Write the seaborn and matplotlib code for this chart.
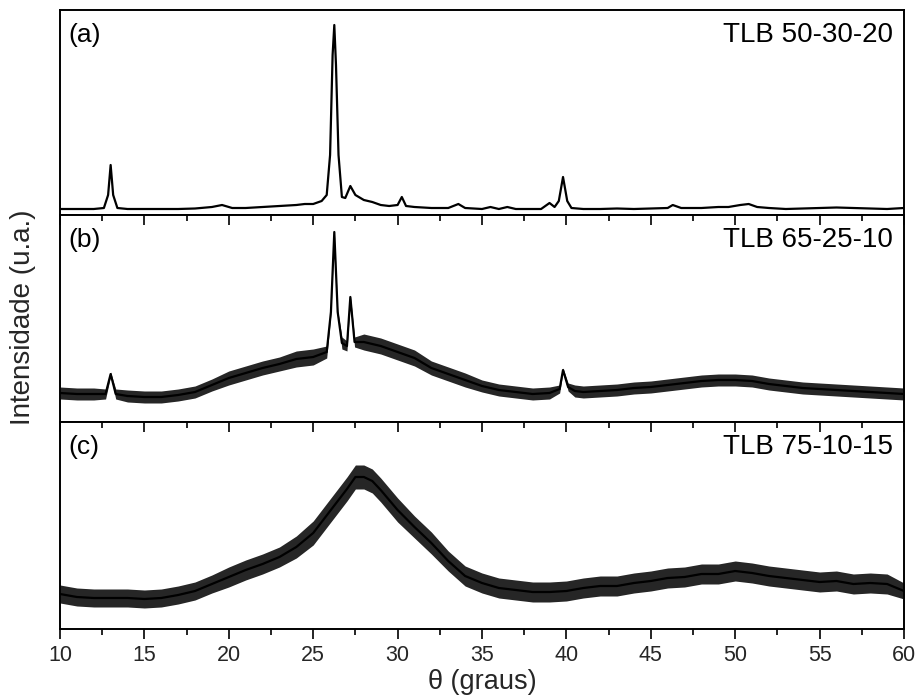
import numpy as np
import pandas as pd
import matplotlib
matplotlib.use("Agg")
import matplotlib.pyplot as plt
from matplotlib.ticker import MultipleLocator
import seaborn as sns

# ---------------- data ----------------
# (a) TLB 50-30-20
a_theta = [10, 11, 12, 12.6, 12.85, 13.0, 13.15, 13.4, 14, 15, 16, 17, 18, 19, 19.6, 20.2,
           21, 22, 23, 24, 24.5, 25.0, 25.5, 25.8, 26.0, 26.15, 26.25, 26.35, 26.5, 26.7,
           26.9, 27.2, 27.5, 28.0, 28.5, 29.0, 29.5, 30.0, 30.25, 30.5, 31, 32, 33, 33.6,
           34, 35, 35.5, 36, 36.5, 37, 38, 38.5, 39.0, 39.3, 39.55, 39.8, 40.05, 40.3, 41,
           42, 43, 44, 45, 46, 46.3, 46.8, 47, 48, 49, 49.6, 50.3, 50.8, 51.3, 52, 53, 54,
           55, 56, 57, 58, 59, 60]
a_int = [6, 6, 6, 7, 20, 50, 20, 7, 6, 6, 6, 6, 6.5, 8, 10, 7,
         7, 8, 9, 10, 11, 11, 14, 20, 60, 160, 190, 150, 60, 18,
         17, 29, 20, 15, 13, 10, 9, 10, 18, 9, 8, 7, 7, 11,
         7, 6, 8, 6, 8, 6, 6, 6, 12, 8, 14, 38, 14, 7, 6,
         6, 6.5, 6, 6.5, 7, 10, 7, 7, 7, 8, 8, 10, 11, 8, 7, 6, 6.5,
         7, 7.5, 7, 6.5, 6, 7]

# (b) TLB 65-25-10 : mean trace and visible noise half-width
b_theta = [10, 11, 12, 12.7, 13.0, 13.3, 14, 15, 16, 17, 18, 19, 20, 21, 22, 23, 24, 25,
           25.8, 26.05, 26.25, 26.45, 26.7, 27.0, 27.2, 27.45, 28, 29, 30, 31, 32, 33, 34,
           35, 36, 37, 38, 39, 39.6, 39.8, 40.1, 40.5, 41, 42, 43, 44, 45, 46, 47, 48, 49,
           50, 51, 52, 53, 54, 55, 56, 57, 58, 59, 60]
b_int = [29, 28, 28, 28, 48, 28, 26, 25, 25, 27, 30, 37, 44, 49, 54, 58, 63, 65,
         70, 110, 190, 110, 79, 76, 125, 80, 80, 76, 70, 64, 54, 48, 42,
         36, 32, 30, 28, 29, 33, 52, 35, 31, 30, 31, 32, 34, 35, 37, 39, 41, 42,
         42, 41, 38, 36, 34, 33, 32, 31, 30, 29, 28]
b_noise = [6, 6, 6, 5, 2, 5, 6, 6, 6, 6, 6, 6, 7, 7, 7, 7, 8, 8,
           6, 2, 1, 2, 6, 5, 2, 5, 8, 8, 8, 8, 7, 7, 7,
           6, 6, 6, 6, 6, 4, 2, 4, 6, 6, 6, 6, 6, 6, 6, 6, 6, 6,
           6, 6, 6, 6, 6, 6, 6, 6, 6, 6, 6]

# (c) TLB 75-10-15 : mean trace and visible noise half-width
c_theta = [10, 11, 12, 13, 14, 15, 16, 17, 18, 19, 20, 21, 22, 23, 24, 25, 26, 27, 27.5,
           28, 28.5, 29, 30, 31, 32, 33, 34, 35, 36, 37, 38, 39, 40, 41, 42, 43, 44, 45,
           46, 47, 48, 49, 50, 51, 52, 53, 54, 55, 56, 57, 58, 59, 60]
c_int = [35, 32, 31, 31, 31, 30, 31, 34, 38, 45, 52, 59, 65, 72, 82, 96, 118, 140, 152,
         152, 148, 139, 119, 102, 86, 68, 53, 46, 41, 39, 37, 37, 38, 41, 43, 43, 46, 48,
         51, 52, 55, 55, 58, 56, 53, 51, 49, 47, 48, 45, 46, 45, 38]
c_noise = [9, 9, 9, 9, 9, 9, 9, 9, 9, 9, 10, 10, 10, 10, 11, 12, 12, 12, 12,
           12, 12, 12, 12, 11, 11, 10, 10, 10, 10, 10, 10, 10, 10, 10, 10, 10, 10, 10,
           10, 10, 10, 10, 10, 10, 10, 10, 10, 10, 10, 10, 10, 10, 8]

panel_tags = ["(a)", "(b)", "(c)"]
sample_names = ["TLB 50-30-20", "TLB 65-25-10", "TLB 75-10-15"]
x_ticks = [10, 15, 20, 25, 30, 35, 40, 45, 50, 55, 60]

# ---------------- style ----------------
sns.set_theme(style="ticks")
plt.rcParams["font.family"] = ["Liberation Sans", "DejaVu Sans"]
plt.rcParams["axes.linewidth"] = 1.4
plt.rcParams["axes.edgecolor"] = "black"

W, H = 920, 697
fig = plt.figure(figsize=(W / 100, H / 100), dpi=100)
left, right = 60 / W, 904 / W
bounds_px = [(10, 215), (215, 422), (422, 629)]
ylims = [205, 207, 207]

frames = [
    pd.DataFrame({"theta": a_theta, "I": a_int}),
    pd.DataFrame({"theta": b_theta, "I": b_int, "n": b_noise}),
    pd.DataFrame({"theta": c_theta, "I": c_int, "n": c_noise}),
]

axes = []
for i, (top, bot) in enumerate(bounds_px):
    ax = fig.add_axes([left, 1 - bot / H, right - left, (bot - top) / H])
    axes.append(ax)
    df = frames[i]
    if "n" in df:
        ax.fill_between(df["theta"], df["I"] - df["n"], df["I"] + df["n"],
                        color="black", alpha=0.85, linewidth=0)
    sns.lineplot(data=df, x="theta", y="I", ax=ax, color="black", linewidth=1.6,
                 sort=False, estimator=None)
    ax.set_xlim(10, 60)
    ax.set_ylim(0, ylims[i])
    ax.set_xlabel("")
    ax.set_ylabel("")
    ax.set_yticks([])
    ax.xaxis.set_major_locator(MultipleLocator(5))
    ax.xaxis.set_minor_locator(MultipleLocator(2.5))
    for s in ax.spines.values():
        s.set_visible(True)
        s.set_linewidth(1.4)
        s.set_color("black")
    if i == 0:
        ax.tick_params(axis="x", which="both", bottom=False, top=False,
                       labelbottom=False, labeltop=False)
    elif i == 1:
        ax.tick_params(axis="x", which="both", bottom=False, top=True,
                       labelbottom=False, labeltop=False, direction="in",
                       width=1.2, color="black")
        ax.tick_params(axis="x", which="major", length=7.2)
        ax.tick_params(axis="x", which="minor", length=4.5)
    else:
        ax.tick_params(axis="x", which="both", bottom=True, top=False,
                       labelbottom=True, labeltop=False, direction="out",
                       width=1.2, color="black")
        ax.tick_params(axis="x", which="major", length=7.5, pad=4, labelsize=15.5)
        ax.tick_params(axis="x", which="minor", length=4.2)
        ax.set_xticks(x_ticks)
        ax.set_xticklabels([str(v) for v in x_ticks])
    ax.text(0.0095, 0.878, panel_tags[i], transform=ax.transAxes, ha="left",
            va="center", fontsize=19, color="black")
    ax.text(0.987, 0.878, sample_names[i], transform=ax.transAxes, ha="right",
            va="center", fontsize=20, color="black")

# bottom panel: inward ticks along its top edge
axc = axes[2]
tw = axc.secondary_xaxis("top")
tw.xaxis.set_major_locator(MultipleLocator(5))
tw.xaxis.set_minor_locator(MultipleLocator(2.5))
tw.tick_params(axis="x", which="both", direction="in", labeltop=False, width=1.2,
               color="black")
tw.tick_params(axis="x", which="major", length=7.2)
tw.tick_params(axis="x", which="minor", length=4.5)
tw.spines["top"].set_visible(False)

fig.text(23 / W, 1 - 317.5 / H, "Intensidade (u.a.)", rotation=90, ha="center",
         va="center", fontsize=20)
fig.text(482 / W, 2 / H, "θ (graus)", ha="center", va="bottom", fontsize=19.5)

fig.savefig("out.png", dpi=100)
